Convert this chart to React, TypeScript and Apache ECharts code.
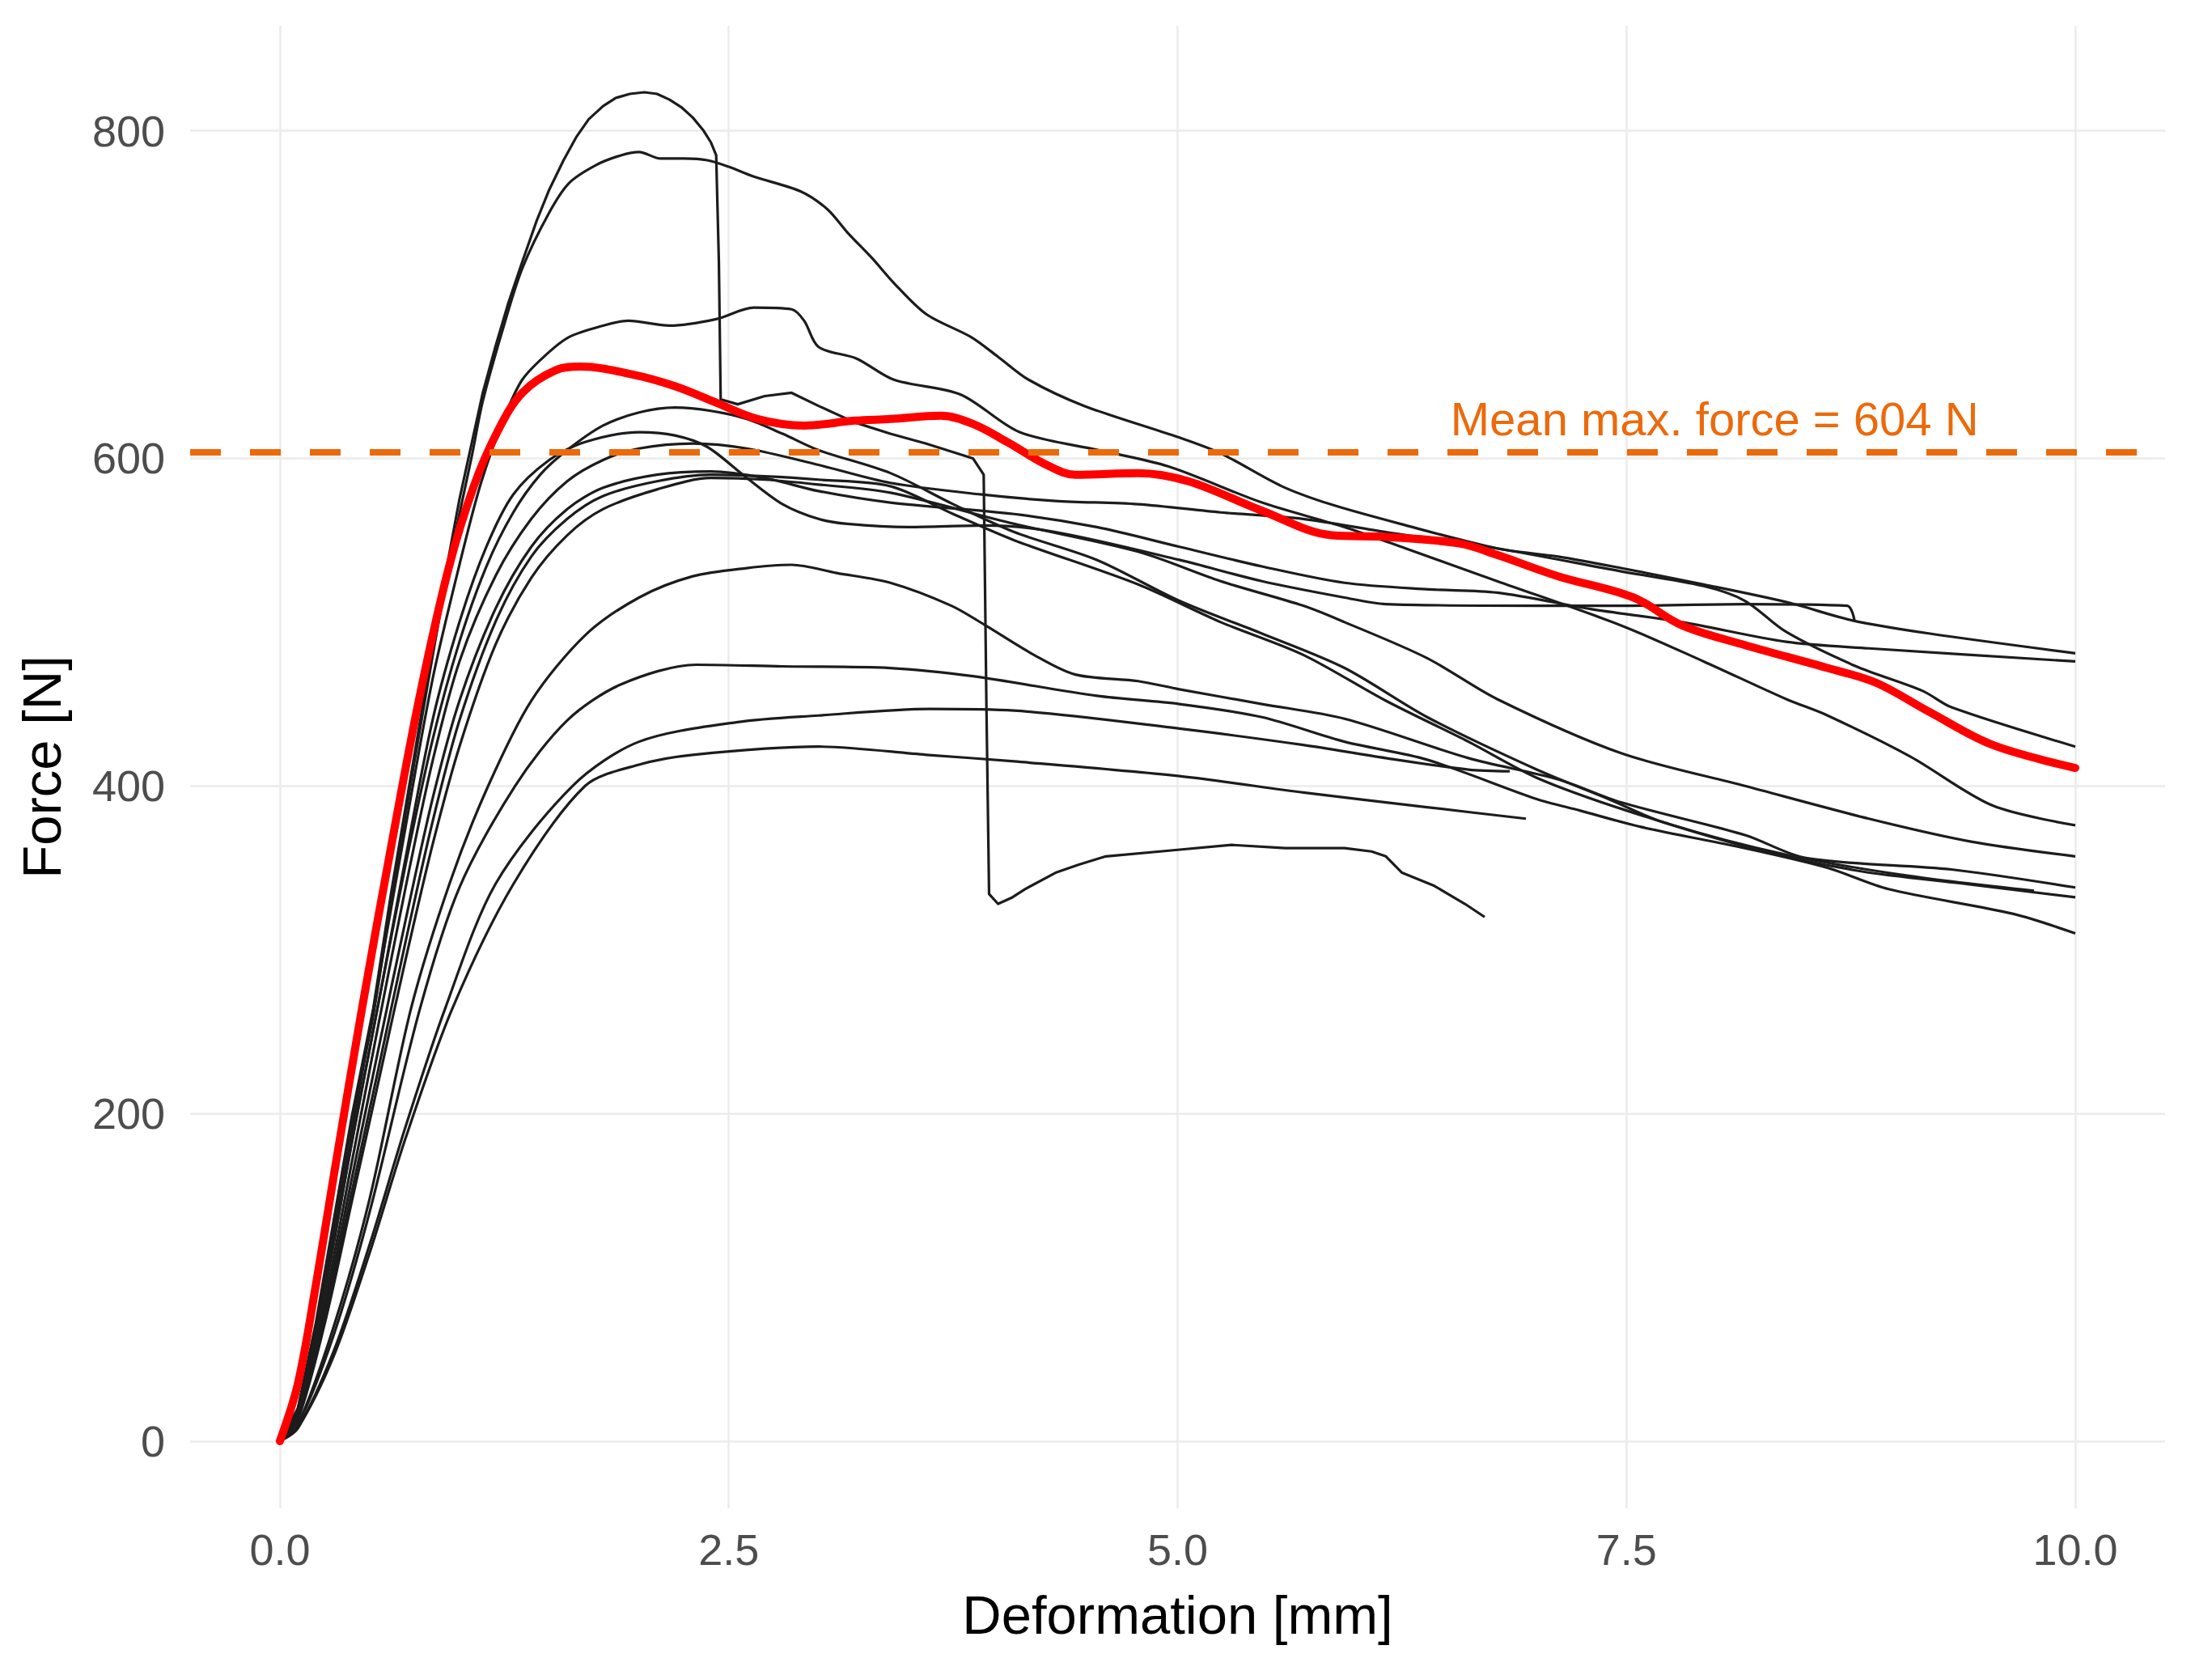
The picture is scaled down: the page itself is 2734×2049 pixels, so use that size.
import React, { useEffect, useRef } from 'react';
import * as echarts from 'echarts';

// axis ticks
const xTicks = [0, 2.5, 5, 7.5, 10];
const yTicks = [0, 200, 400, 600, 800];

// mean of the maximum forces (horizontal reference line)
const meanMaxForce = 604;
const meanLabel = 'Mean max. force = 604 N';
const meanLabelAt = [6.52, 624];

// force-deformation curves of the single specimens: [deformation mm, force N]
const specimen01 = [[0,0],[0.1,20],[0.2,72],[0.3,135],[0.4,198],[0.52,264],[0.62,335],[0.72,400],[0.82,465],[0.92,528],[1.0,575],[1.07,610],[1.13,640],[1.2,668],[1.27,694],[1.35,720],[1.43,745],[1.5,764],[1.58,782],[1.65,796],[1.72,807],[1.8,815],[1.87,820],[1.95,822.5],[2.03,823.5],[2.1,822.5],[2.17,819],[2.24,814],[2.3,808],[2.36,800],[2.4,793],[2.43,785],[2.445,720],[2.455,636],[2.55,633],[2.7,638],[2.85,640],[3.0,632],[3.2,622],[3.4,615],[3.6,609],[3.86,600],[3.92,590],[3.935,450],[3.95,334],[4.0,328],[4.08,332],[4.15,337],[4.32,347],[4.45,352],[4.6,357],[5.0,361],[5.3,364],[5.6,362],[5.93,362],[6.08,360],[6.16,357],[6.25,347],[6.43,339],[6.6,328],[6.71,320]];
const specimen02 = [[0,0],[0.1,20],[0.2,70],[0.3,132],[0.4,195],[0.52,260],[0.62,330],[0.72,396],[0.82,460],[0.92,522],[1.0,566],[1.07,602],[1.13,635],[1.25,682],[1.35,716],[1.5,750],[1.61,768],[1.76,779],[1.9,785],[2.0,787],[2.12,783],[2.25,783],[2.38,782],[2.5,778],[2.64,772],[2.9,763],[3.05,752],[3.16,738],[3.3,722],[3.42,707],[3.6,688],[3.85,674],[4.0,662],[4.17,648],[4.48,632],[5.0,613],[5.24,603],[5.58,583],[5.85,572],[6.24,560],[6.78,545],[7.12,540],[7.47,533],[7.93,523],[8.4,512],[8.76,501],[9.19,493],[10,481]];
const specimen03 = [[0,0],[0.1,18],[0.25,95],[0.4,188],[0.55,282],[0.7,375],[0.85,465],[1.0,535],[1.12,585],[1.25,625],[1.35,648],[1.48,663],[1.61,674],[1.8,681],[1.94,684],[2.17,681],[2.43,685],[2.64,692],[2.85,691],[2.92,684],[3.0,668],[3.21,661],[3.42,648],[3.79,639],[4.12,616],[4.56,605],[4.95,595],[5.47,573],[5.93,558],[6.27,545],[6.78,525],[7.47,498],[7.93,476],[8.39,453],[8.62,443],[9.08,418],[9.54,388],[10,376]];
const specimen04 = [[0,0],[0.1,17],[0.25,92],[0.4,182],[0.55,268],[0.7,352],[0.85,428],[1.0,488],[1.15,534],[1.3,567],[1.45,590],[1.6,605],[1.8,620],[2.0,628],[2.2,631],[2.4,629],[2.6,624],[2.8,615],[3.0,605],[3.4,591],[3.75,572],[4.09,555],[4.55,538],[5.01,513],[5.47,493],[5.93,472],[6.39,442],[7.0,410],[7.4,392],[7.7,378],[8.39,358],[9.08,345],[9.77,336]];
const specimen05 = [[0,0],[0.1,15],[0.25,85],[0.4,170],[0.55,255],[0.7,338],[0.85,415],[1.0,476],[1.2,528],[1.4,563],[1.6,586],[1.8,599],[2.0,606],[2.3,609],[2.6,606],[3.0,596],[3.4,585],[3.9,578],[4.32,574],[4.78,572],[5.24,567],[5.7,563],[6.16,555],[6.78,545],[7.47,531],[7.93,522],[8.16,513],[8.39,494],[8.78,473],[9.15,458],[9.31,448],[10,424]];
const specimen06 = [[0,0],[0.1,15],[0.25,80],[0.4,160],[0.55,240],[0.7,318],[0.85,392],[1.0,452],[1.2,508],[1.4,546],[1.6,569],[1.8,582],[2.1,590],[2.4,592],[2.7,588],[3.0,580],[3.4,573],[4.09,566],[4.55,558],[5.01,546],[5.47,534],[5.93,524],[6.4,520],[6.78,518],[7.3,508],[7.81,500],[8.39,488],[8.85,484],[10,476]];
const specimen07 = [[0,0],[0.1,14],[0.25,76],[0.4,152],[0.55,228],[0.7,305],[0.85,378],[1.0,440],[1.2,500],[1.4,540],[1.6,563],[1.8,577],[2.1,586],[2.4,590],[2.7,589],[3.0,587],[3.4,583],[3.75,566],[4.09,550],[4.78,523],[5.24,500],[5.7,480],[6.16,452],[6.62,427],[7.0,405],[7.5,385],[8.2,362],[8.8,348],[9.4,340],[10,332]];
const specimen08 = [[0,0],[0.1,13],[0.25,72],[0.4,146],[0.55,220],[0.7,294],[0.85,364],[1.0,424],[1.2,486],[1.4,527],[1.6,553],[1.8,569],[2.1,581],[2.4,588],[2.7,587],[3.0,584],[3.4,579],[4.09,560],[4.78,543],[5.24,525],[5.7,510],[5.93,500],[6.39,478],[6.78,453],[7.47,420],[8.16,400],[8.85,380],[9.42,366],[10,357]];
const specimen09 = [[0,0],[0.1,17],[0.25,92],[0.4,182],[0.55,268],[0.7,356],[0.85,440],[1.0,500],[1.15,546],[1.3,578],[1.5,599],[1.7,610],[2.0,616],[2.2,614],[2.38,607],[2.59,589],[2.8,572],[3.0,563],[3.16,560],[3.5,558],[3.93,559],[4.32,555],[5.01,538],[5.47,525],[5.93,515],[6.16,511],[7.0,510],[7.47,510],[8.16,511],[8.73,510],[8.77,501]];
const specimen10 = [[0,0],[0.1,10],[0.3,70],[0.5,148],[0.73,264],[0.95,342],[1.16,400],[1.4,452],[1.7,492],[2.0,515],[2.3,528],[2.6,533],[2.85,535],[3.1,530],[3.4,524],[3.74,510],[3.93,498],[4.2,480],[4.43,468],[4.78,464],[5.01,459],[5.47,450],[5.93,441],[6.62,417],[7.12,404],[7.47,390],[8.16,370],[8.5,356],[9.31,349],[10,338]];
const specimen11 = [[0,0],[0.1,10],[0.3,65],[0.5,140],[0.78,264],[1.0,338],[1.31,400],[1.6,440],[1.9,462],[2.32,474],[2.8,473],[3.4,472],[3.86,467],[4.55,455],[5.01,450],[5.47,442],[5.93,427],[6.39,416],[7.0,392],[7.24,385],[7.58,375],[8.16,362],[8.62,350],[8.96,337],[9.65,322],[10,310]];
const specimen12 = [[0,0],[0.1,8],[0.3,55],[0.5,120],[0.7,192],[0.92,264],[1.2,340],[1.63,400],[2.0,427],[2.55,439],[3.0,443],[3.62,447],[4.09,446],[5.01,435],[5.7,425],[6.16,417],[6.62,410],[6.85,409]];
const specimen13 = [[0,0],[0.1,8],[0.3,52],[0.5,115],[0.7,185],[0.96,264],[1.3,340],[1.7,400],[2.0,413],[2.3,419],[3.0,424],[3.6,419],[4.09,415],[5.01,406],[5.7,396],[6.39,387],[6.94,380]];

// mean curve (red)
const meanCurve = [[0,0],[0.1,35],[0.2,95],[0.3,162],[0.457,264],[0.618,362],[0.779,455],[0.94,533],[1.08,583],[1.215,617],[1.35,640],[1.54,654],[1.675,656],[1.97,651],[2.2,644],[2.43,634],[2.66,624],[2.92,620],[3.2,623],[3.4,624],[3.68,626],[3.86,621],[4.05,610],[4.27,596],[4.43,590],[4.78,591],[5.06,586],[5.47,568],[5.86,553],[6.16,552],[6.57,548],[6.78,541],[7.12,528],[7.54,515],[7.81,498],[8.16,486],[8.62,472],[8.89,463],[9.19,445],[9.54,425],[10,411]];

const specimens = [
  specimen01, specimen02, specimen03, specimen04, specimen05, specimen06, specimen07,
  specimen08, specimen09, specimen10, specimen11, specimen12, specimen13,
];

const FONT = "'Liberation Sans', Arial, sans-serif";
const ORANGE = '#EB6A0C';

const App: React.FC = () => {
  const chartRef = useRef<HTMLDivElement>(null);

  useEffect(() => {
    if (!chartRef.current) return;
    const chart = echarts.init(chartRef.current, null, { renderer: 'svg' });

    const option = {
      animation: false,
      backgroundColor: '#ffffff',
      grid: { left: 235, right: 58, top: 32, bottom: 185 },
      xAxis: {
        type: 'value',
        min: -0.5,
        max: 10.5,
        name: 'Deformation [mm]',
        nameLocation: 'middle',
        nameGap: 98,
        nameTextStyle: { fontSize: 67, color: '#000', fontFamily: FONT },
        axisLine: { show: false },
        axisTick: { show: false, customValues: xTicks },
        axisLabel: {
          customValues: xTicks,
          formatter: (v: number) => v.toFixed(1),
          fontSize: 54,
          color: '#4d4d4d',
          margin: 24,
          fontFamily: FONT,
        },
        splitLine: { show: true, lineStyle: { color: '#ebebeb', width: 2.5 } },
      },
      yAxis: {
        type: 'value',
        min: -41,
        max: 864,
        name: 'Force [N]',
        nameLocation: 'middle',
        nameGap: 150,
        nameTextStyle: { fontSize: 67, color: '#000', fontFamily: FONT },
        axisLine: { show: false },
        axisTick: { show: false, customValues: yTicks },
        axisLabel: {
          customValues: yTicks,
          fontSize: 54,
          color: '#4d4d4d',
          margin: 31,
          fontFamily: FONT,
        },
        splitLine: { show: true, lineStyle: { color: '#ebebeb', width: 2.5 } },
      },
      series: [
        ...specimens.map((d, i) => ({
          name: `Specimen ${i + 1}`,
          type: 'line',
          data: d,
          showSymbol: false,
          // the curve with the two sudden drops is drawn without smoothing
          smooth: i === 0 ? false : 0.3,
          silent: true,
          lineStyle: { color: '#1c1c1c', width: 3.2, join: 'round' },
          z: 2,
        })),
        {
          name: 'Mean',
          type: 'line',
          data: meanCurve,
          showSymbol: false,
          smooth: 0.35,
          silent: true,
          lineStyle: { color: '#ff0000', width: 10, cap: 'round', join: 'round' },
          z: 3,
          markLine: {
            silent: true,
            symbol: 'none',
            label: { show: false },
            lineStyle: { color: ORANGE, width: 8, type: [38, 36] },
            data: [{ yAxis: meanMaxForce }],
          },
        },
      ],
    };
    chart.setOption(option);

    const p = chart.convertToPixel({ gridIndex: 0 }, meanLabelAt);
    chart.setOption({
      graphic: [
        {
          type: 'text',
          x: p[0],
          y: p[1],
          z: 10,
          style: {
            text: meanLabel,
            fill: ORANGE,
            fontSize: 58,
            fontFamily: FONT,
            align: 'left',
            verticalAlign: 'middle',
          },
        },
      ],
    });

    const handleResize = () => chart.resize();
    window.addEventListener('resize', handleResize);
    return () => {
      window.removeEventListener('resize', handleResize);
      chart.dispose();
    };
  }, []);

  return (
    <div
      ref={chartRef}
      style={{ position: 'fixed', left: 0, top: 0, width: 2734, height: 2049, background: '#fff' }}
    />
  );
};

export default App;
